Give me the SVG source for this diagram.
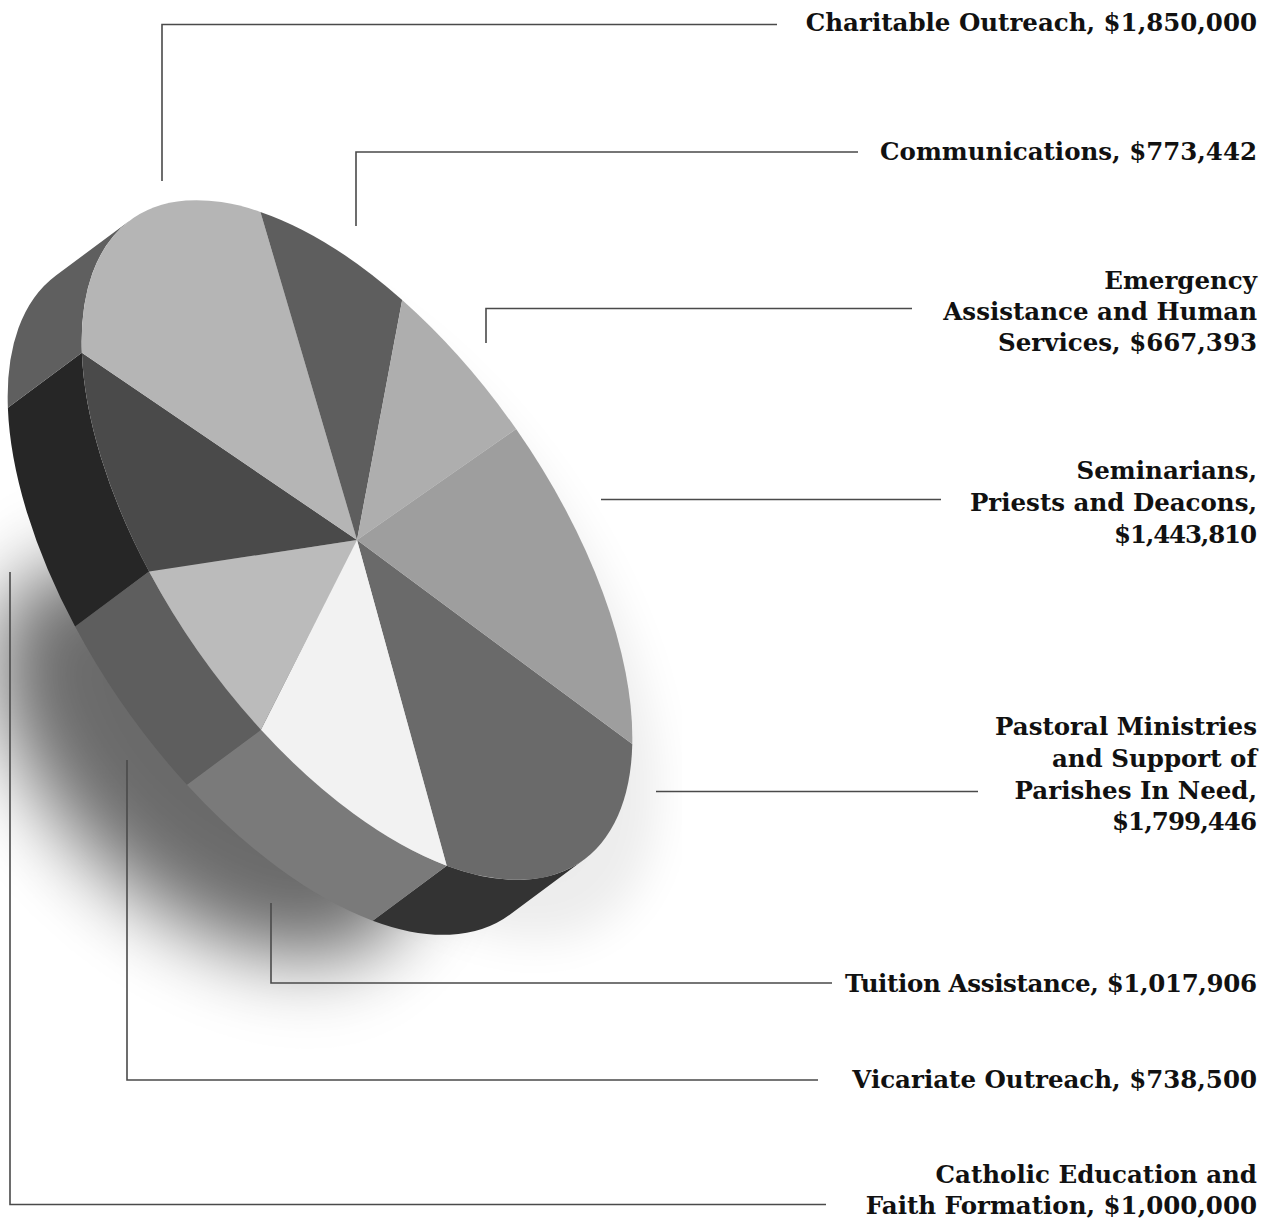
<svg xmlns="http://www.w3.org/2000/svg" width="1274" height="1220" viewBox="0 0 1274 1220">
<style>
.lbl{font-family:"DejaVu Serif","Liberation Serif",serif;font-weight:bold;font-size:24.5px;fill:#111;text-anchor:end}
.conn{fill:none;stroke:#4a4a4a;stroke-width:1.6}
</style>
<defs>
<filter id="blur" x="-60%" y="-60%" width="220%" height="220%"><feGaussianBlur stdDeviation="40"/></filter>
<filter id="glow" x="-30%" y="-30%" width="160%" height="160%"><feGaussianBlur stdDeviation="22"/></filter>
<clipPath id="shclip"><rect x="0" y="0" width="682" height="1220"/></clipPath>
</defs>
<rect width="1274" height="1220" fill="#ffffff"/>
<g id="shadow" clip-path="url(#shclip)">
<ellipse cx="380" cy="600" rx="392" ry="200" transform="rotate(55 380 600)" fill="#000" opacity="0.07" filter="url(#glow)"/>
<ellipse cx="205" cy="760" rx="250" ry="145" transform="rotate(42 205 760)" fill="#000" opacity="0.58" filter="url(#blur)"/>
</g>
<g id="pie-side">
<path id="side-pastoral" d="M584.05,859.52 A392,194 55 0 1 446.72,865.65 L372.72,920.65 A392,194 55 0 0 510.05,914.52 Z" fill="#333333"/>
<path id="side-tuition" d="M446.72,865.65 A392,194 55 0 1 260.92,729.75 L186.92,784.75 A392,194 55 0 0 372.72,920.65 Z" fill="#7a7a7a"/>
<path id="side-vicariate" d="M260.92,729.75 A392,194 55 0 1 149.08,571.55 L75.08,626.55 A392,194 55 0 0 186.92,784.75 Z" fill="#5e5e5e"/>
<path id="side-catholic" d="M149.08,571.55 A392,194 55 0 1 81.87,352.85 L7.87,407.85 A392,194 55 0 0 75.08,626.55 Z" fill="#262626"/>
<path id="side-charitable" d="M81.87,352.85 A392,194 55 0 1 129.95,220.48 L55.95,275.48 A392,194 55 0 0 7.87,407.85 Z" fill="#5f5f5f"/>
</g>
<g id="pie-top">
<path id="slice-pastoral" d="M357,540 L632.27,743.99 A392,194 55 0 1 446.72,865.65 Z" fill="#6a6a6a"/>
<path id="slice-tuition" d="M357,540 L446.72,865.65 A392,194 55 0 1 260.92,729.75 Z" fill="#f2f2f2"/>
<path id="slice-vicariate" d="M357,540 L260.92,729.75 A392,194 55 0 1 149.08,571.55 Z" fill="#bbbbbb"/>
<path id="slice-catholic" d="M357,540 L149.08,571.55 A392,194 55 0 1 81.87,352.85 Z" fill="#4a4a4a"/>
<path id="slice-charitable" d="M357,540 L81.87,352.85 A392,194 55 0 1 260.41,211.89 Z" fill="#b5b5b5"/>
<path id="slice-communications" d="M357,540 L260.41,211.89 A392,194 55 0 1 402.19,300.03 Z" fill="#5e5e5e"/>
<path id="slice-emergency" d="M357,540 L402.19,300.03 A392,194 55 0 1 516.12,429.02 Z" fill="#aeaeae"/>
<path id="slice-seminarians" d="M357,540 L516.12,429.02 A392,194 55 0 1 632.27,743.99 Z" fill="#9e9e9e"/>
</g>
<g id="connectors">
<path class="conn" d="M162,181 V24.5 H777"/>
<path class="conn" d="M356,226 V152 H858"/>
<path class="conn" d="M486,343 V308.5 H912"/>
<path class="conn" d="M601,499.5 H941"/>
<path class="conn" d="M656,791.5 H978"/>
<path class="conn" d="M271,903 V983 H832"/>
<path class="conn" d="M127,760 V1080 H818"/>
<path class="conn" d="M10,572 V1204.5 H826"/>
</g>
<g id="label-charitable"><text class="lbl" x="1257" y="31">Charitable Outreach, $1,850,000</text></g>
<g id="label-communications"><text class="lbl" x="1257" y="160">Communications, $773,442</text></g>
<g id="label-emergency"><text class="lbl" x="1257" y="289">Emergency</text><text class="lbl" x="1257" y="320">Assistance and Human</text><text class="lbl" x="1257" y="351">Services, $667,393</text></g>
<g id="label-seminarians"><text class="lbl" x="1257" y="479">Seminarians,</text><text class="lbl" x="1257" y="511">Priests and Deacons,</text><text class="lbl" x="1257" y="543" textLength="143">$1,443,810</text></g>
<g id="label-pastoral"><text class="lbl" x="1257" y="735">Pastoral Ministries</text><text class="lbl" x="1257" y="767">and Support of</text><text class="lbl" x="1257" y="799">Parishes In Need,</text><text class="lbl" x="1257" y="830" textLength="145">$1,799,446</text></g>
<g id="label-tuition"><text class="lbl" x="1257" y="992" textLength="412">Tuition Assistance, $1,017,906</text></g>
<g id="label-vicariate"><text class="lbl" x="1257" y="1088">Vicariate Outreach, $738,500</text></g>
<g id="label-catholic"><text class="lbl" x="1257" y="1183">Catholic Education and</text><text class="lbl" x="1257" y="1214">Faith Formation, $1,000,000</text></g>
</svg>
